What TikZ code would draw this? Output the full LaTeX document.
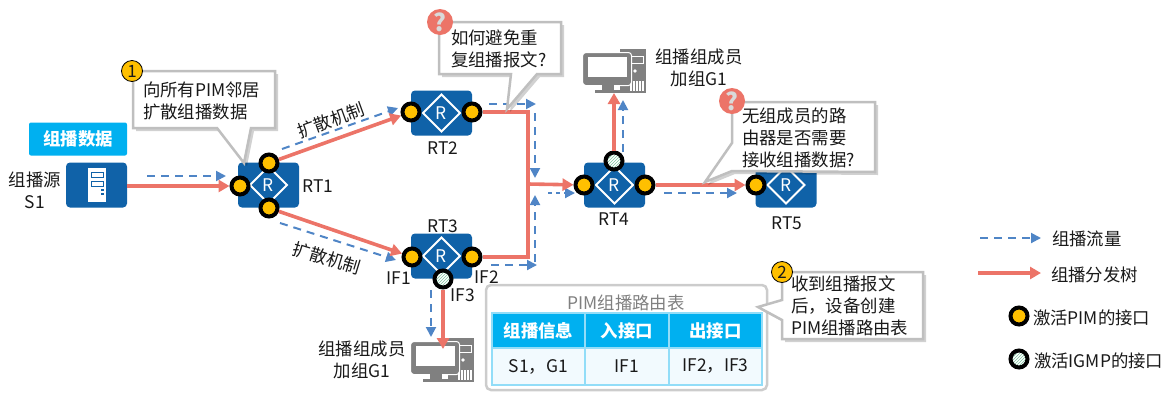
\documentclass[tikz,border=0pt]{standalone}
\usepackage{fontspec}
\setmainfont{Noto Sans CJK SC}
\usetikzlibrary{arrows.meta,shapes.geometric,patterns}
\definecolor{rtblue}{HTML}{1062A8}
\definecolor{skyb}{HTML}{00B0F0}
\definecolor{redl}{HTML}{EC7468}
\definecolor{dashb}{HTML}{4F85C6}
\definecolor{amber}{HTML}{FFC000}
\definecolor{hatch}{HTML}{7CC49E}
\definecolor{pcgray}{HTML}{808080}
\definecolor{cellb}{HTML}{92DDF8}
\definecolor{cellf}{HTML}{F2FAFE}
\definecolor{callb}{HTML}{BFBFBF}
\tikzset{
  x=1pt,y=-1pt,
  every node/.style={inner sep=0pt,outer sep=0pt,font=\fontsize{17.4}{22}\selectfont,text=black!90},
  redline/.style={draw=redl,line width=3.6pt,line join=miter},
  redarrow/.style={redline,-{Triangle[length=11pt,width=12pt]}},
  bluearrow/.style={draw=dashb,line width=2pt,dash pattern=on 8pt off 6pt,-{Triangle[length=10pt,width=10pt]}},
  routerbox/.style={draw=none,fill=rtblue,rounded corners=4pt,minimum width=61pt,minimum height=45pt},
  rdiamond/.style={diamond,draw=white,line width=2pt,minimum width=37pt,minimum height=37pt,text=white},
  pimport/.style={circle,draw=black,line width=4pt,fill=amber,outer sep=2pt,minimum size=17pt},
  igmpport/.style={circle,draw=black,line width=4pt,outer sep=2pt,preaction={fill=white},pattern=north east lines,pattern color=hatch,minimum size=17pt},
  callout/.style={draw=callb,fill=white,line width=2.5pt,line join=miter},
  callshadow/.style={fill=black,opacity=0.18,draw=none},
  badge/.style={circle,draw=black,line width=0.8pt,fill=amber,minimum size=21pt},
  qbadge/.style={circle,fill=redl,minimum size=26pt,text=white!85!black,font=\fontsize{24}{24}\selectfont\bfseries},
  headcell/.style={fill=skyb,draw=cellb,line width=1.5pt,text=white,font=\fontsize{17.4}{22}\selectfont\bfseries},
  bodycell/.style={fill=cellf,draw=cellb,line width=1.5pt},
  computer/.pic={
    \fill[pcgray] (37,0) rectangle (63,44);
    \draw[white,line width=1pt] (42,7) rectangle (60,14);
    \fill[white] (52,22) circle (1.8);
    \foreach \bx in {47,50,53,56,59} {\fill[white] (\bx,32) rectangle ++(1.5,10);}
    \fill[white] (35,2) rectangle (37,44);
    \fill[pcgray,rounded corners=3pt] (0,4) rectangle (48,36);
    \draw[white,line width=1pt,rounded corners=3pt] (-0.5,3.5) rectangle (48.5,36.5);
    \fill[white] (5,8) rectangle (44,28);
    \fill[pcgray] (19,36) rectangle (31,41);
    \fill[pcgray] (12,41) rectangle (40,44);
  }
}
\newcommand{\rtr}[3]{%
  \node[routerbox] (#1) at (#2,#3) {};
  \node[rdiamond] (#1d) at (#2,#3) {R};
}
\newcommand{\callpoly}[1]{%
  \fill[callshadow,shift={(3,3)}] #1 -- cycle;
  \draw[callout] #1 -- cycle;
}
\begin{document}
\begin{tikzpicture}
\useasboundingbox (0,0) rectangle (1168,392);

% named free ends
\coordinate (j1) at (528,112);
\coordinate (j2) at (528,257);
\coordinate (j3) at (528,184);
\coordinate (a1s) at (147,176); \coordinate (a1e) at (226,176);
\coordinate (a2s) at (282,149); \coordinate (a2e) at (398,108);
\coordinate (a3s) at (280,223); \coordinate (a3e) at (396,260);
\coordinate (a4s) at (489,104); \coordinate (a4e) at (536,104);
\coordinate (a5s) at (535,113); \coordinate (a5e) at (535,178);
\coordinate (a6s) at (491,265); \coordinate (a6e) at (537,265);
\coordinate (a7s) at (535,262); \coordinate (a7e) at (535,195);
\coordinate (a8s) at (548,193); \coordinate (a8e) at (575,193);
\coordinate (a9s) at (664,193); \coordinate (a9e) at (737,193);
\coordinate (a10s) at (623,152); \coordinate (a10e) at (623,100);
\coordinate (a11s) at (431,290); \coordinate (a11e) at (431,337);
\coordinate (pc1in) at (614,93);
\coordinate (pc2in) at (443,349);

% source
\node[fill=skyb,rounded corners=2pt,minimum width=98pt,minimum height=33pt,text=white,font=\fontsize{17.4}{22}\selectfont\bfseries] (tag) at (78,139) {组播数据};
\node[fill=rtblue,rounded corners=4pt,minimum width=61pt,minimum height=45pt] (s1) at (96.5,185) {};
\fill[white] (88,168) rectangle (106,202);
\draw[rtblue,line width=1pt] (91,172) rectangle (103,177);
\draw[rtblue,line width=1pt] (91,181) rectangle (103,186);
\fill[rtblue] (101,189) rectangle (104,191);
\fill[rtblue] (101,192.5) rectangle (104,194.5);
\node[align=center] (s1t) at (35,190) {组播源\\S1};

% computers
\pic at (583,49) {computer};
\pic at (411,338) {computer};

% routers
\rtr{rt1}{268.5}{185}
\rtr{rt2}{441.5}{113}
\rtr{rt3}{441.5}{256}
\rtr{rt4}{614.5}{185}
\rtr{rt5}{786}{185}

% blue flows
\draw[bluearrow] (a1s) -- (a1e);
\draw[bluearrow] (a2s) -- (a2e);
\draw[bluearrow] (a3s) -- (a3e);
\draw[bluearrow] (a4s) -- (a4e);
\draw[bluearrow] (a5s) -- (a5e);
\draw[bluearrow] (a6s) -- (a6e);
\draw[bluearrow] (a7s) -- (a7e);
\draw[bluearrow,dash pattern=on 4pt off 4pt] (a8s) -- (a8e);
\draw[bluearrow] (a9s) -- (a9e);
\draw[bluearrow] (a10s) -- (a10e);
\draw[bluearrow] (a11s) -- (a11e);

% ports
\node[pimport] (p1l) at (240,186) {};
\node[pimport] (p1t) at (269,163) {};
\node[pimport] (p1b) at (269,208) {};
\node[pimport] (p2l) at (411,112) {};
\node[pimport] (p2r) at (472,112) {};
\node[pimport] (p3l) at (412,257) {};
\node[pimport] (p3r) at (472,257) {};
\node[igmpport] (p3b) at (443,279) {};
\node[pimport] (p4l) at (584,185) {};
\node[pimport] (p4r) at (645,185) {};
\node[igmpport] (p4t) at (614,161) {};
\node[pimport] (p5l) at (756,185) {};

% red tree
\draw[redarrow] (s1.east |- p1l) -- (p1l);
\draw[redarrow] (p1t) -- (p2l);
\draw[redarrow] (p1b) -- (p3l);
\draw[redline] (p2r) -- (j1) -- (j2) -- (p3r);
\draw[redarrow] (j3) -- (p4l);
\draw[redarrow] (p4r) -- (p5l);
\draw[redarrow] (p4t) -- (pc1in);
\draw[redarrow] (p3b) -- (pc2in);

% router / port labels
\node (l1) at (318,186) {RT1};
\node (l2) at (443,148) {RT2};
\node (l3) at (443,226) {RT3};
\node (l4) at (614,219) {RT4};
\node (l5) at (787,223) {RT5};
\node (if1) at (399,278) {IF1};
\node (if2) at (487,277) {IF2};
\node (if3) at (463,295) {IF3};
\node[rotate=20] (k1) at (331,120) {扩散机制};
\node[rotate=-17] (k2) at (327,258) {扩散机制};
\node[align=center] (m1) at (699,68) {组播组成员\\加组G1};
\node[align=center] (m2) at (362,360) {组播组成员\\加组G1};

% callouts
\callpoly{(133,71) -- (275,71) -- (275,128) -- (251,128) -- (244,163) -- (217,128) -- (133,128)}
\node[align=left,anchor=west] (c1) at (143,101) {向所有PIM邻居\\扩散组播数据};
\node[badge,font=\fontsize{17}{17}\selectfont] (b1) at (132,71) {1};

\callpoly{(439,22) -- (561,22) -- (561,74) -- (537,74) -- (507,109) -- (511,74) -- (439,74)}
\node[align=left,anchor=west] (c2) at (451,49) {如何避免重\\复组播报文?};
\node[qbadge] (q1) at (440,22) {?};

\callpoly{(732,102) -- (875,102) -- (875,172) -- (732,171) -- (705,182) -- (732,143)}
\node[align=left,anchor=west] (c3) at (742,138) {无组成员的路\\由器是否需要\\接收组播数据?};
\node[qbadge] (q2) at (732,101) {?};

% table panel
\node[draw=callb!80,line width=2.5pt,fill=white,rounded corners=5pt,minimum width=281pt,minimum height=105pt] (panel) at (626.5,337.5) {};
\node[text=pcgray] (ptitle) at (626,303) {PIM组播路由表};
\node[headcell,minimum width=93pt,minimum height=35pt] (h1) at (538.5,330.5) {组播信息};
\node[headcell,minimum width=84pt,minimum height=35pt] (h2) at (627,330.5) {入接口};
\node[headcell,minimum width=93pt,minimum height=35pt] (h3) at (715.5,330.5) {出接口};
\node[bodycell,minimum width=93pt,minimum height=37pt] (r1) at (538.5,366.5) {S1，G1};
\node[bodycell,minimum width=84pt,minimum height=37pt] (r2) at (627,366.5) {IF1};
\node[bodycell,minimum width=93pt,minimum height=37pt] (r3) at (715.5,366.5) {IF2，IF3};

\callpoly{(782,272) -- (923,272) -- (923,339) -- (782,339) -- (782,320) -- (758,307) -- (782,300)}
\node[align=left,anchor=west] (c4) at (791,306) {收到组播报文\\后，设备创建\\PIM组播路由表};
\node[badge,font=\fontsize{17}{17}\selectfont] (b2) at (782,272) {2};

% legend
\coordinate (lg1s) at (980,238); \coordinate (lg1e) at (1041,238);
\coordinate (lg2s) at (978,273); \coordinate (lg2e) at (1041,273);
\draw[bluearrow] (lg1s) -- (lg1e);
\draw[redarrow] (lg2s) -- (lg2e);
\node[anchor=west] (lt1) at (1052,239) {组播流量};
\node[anchor=west] (lt2) at (1051,275) {组播分发树};
\node[pimport] (lp1) at (1019,316) {};
\node[igmpport] (lp2) at (1019,359) {};
\node[anchor=west] (lt3) at (1033,318) {激活PIM的接口};
\node[anchor=west] (lt4) at (1034,361) {激活IGMP的接口};
\end{tikzpicture}
\end{document}
